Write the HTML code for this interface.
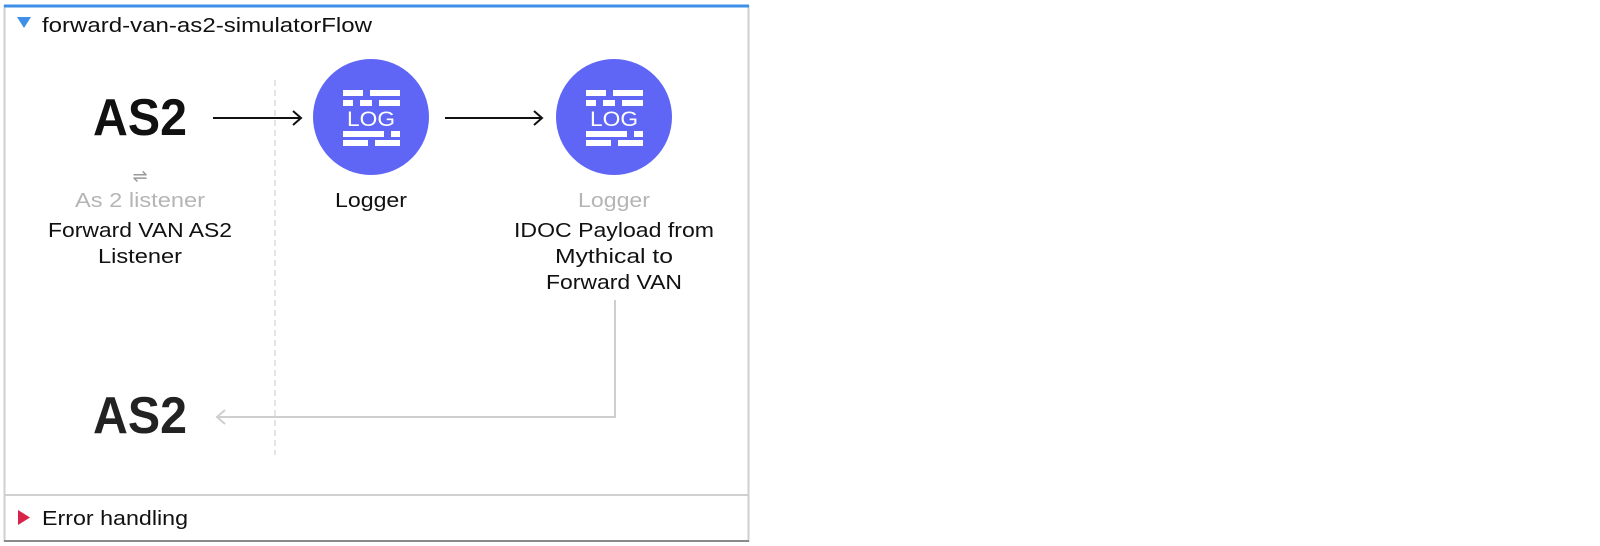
<!DOCTYPE html>
<html><head><meta charset="utf-8"><style>
html,body{margin:0;padding:0;background:#fff;width:1600px;height:546px;overflow:hidden}
svg{display:block}
text{font-family:"Liberation Sans","DejaVu Sans",sans-serif}
</style></head><body>
<svg width="1600" height="546" viewBox="0 0 1600 546" xmlns="http://www.w3.org/2000/svg">
<defs>
<g id="log">
  <rect x="-28" y="-27" width="20" height="6" fill="#fff"/>
  <rect x="-1" y="-27" width="30" height="6" fill="#fff"/>
  <rect x="-28" y="-17" width="10" height="6" fill="#fff"/>
  <rect x="-11" y="-17" width="12" height="6" fill="#fff"/>
  <rect x="8" y="-17" width="21" height="6" fill="#fff"/>
  <text x="0" y="9" text-anchor="middle" font-size="21" fill="#fff" textLength="48" lengthAdjust="spacingAndGlyphs">LOG</text>
  <rect x="-28" y="14" width="41" height="6" fill="#fff"/>
  <rect x="20" y="14" width="9" height="6" fill="#fff"/>
  <rect x="-28" y="23" width="25" height="6" fill="#fff"/>
  <rect x="4" y="23" width="25" height="6" fill="#fff"/>
</g>
</defs>
<rect x="4.5" y="6" width="744" height="535" fill="#fff" stroke="#cfcfcf" stroke-width="2"/>
<line x1="4" y1="6" x2="749" y2="6" stroke="#3d8fe8" stroke-width="3"/>
<line x1="4" y1="541" x2="749" y2="541" stroke="#8a8a8a" stroke-width="2"/>
<line x1="5" y1="495" x2="748" y2="495" stroke="#d0d0d0" stroke-width="2"/>
<polygon points="17,17 31,17 24,28" fill="#3d8fe8"/>
<g font-size="20" text-anchor="middle" fill="#111">
<text x="42" y="32" text-anchor="start" textLength="330" lengthAdjust="spacingAndGlyphs">forward-van-as2-simulatorFlow</text>
<text x="140" y="207" fill="#b5b5b5" textLength="130" lengthAdjust="spacingAndGlyphs">As 2 listener</text>
<text x="140" y="237" textLength="184" lengthAdjust="spacingAndGlyphs">Forward VAN AS2</text>
<text x="140" y="263" textLength="84" lengthAdjust="spacingAndGlyphs">Listener</text>
<text x="371" y="207" textLength="72" lengthAdjust="spacingAndGlyphs">Logger</text>
<text x="614" y="207" fill="#b5b5b5" textLength="72" lengthAdjust="spacingAndGlyphs">Logger</text>
<text x="614" y="237" textLength="200" lengthAdjust="spacingAndGlyphs">IDOC Payload from</text>
<text x="614" y="263" textLength="118" lengthAdjust="spacingAndGlyphs">Mythical to</text>
<text x="614" y="289" textLength="136" lengthAdjust="spacingAndGlyphs">Forward VAN</text>
<text x="42" y="525" text-anchor="start" textLength="146" lengthAdjust="spacingAndGlyphs">Error handling</text>
</g>
<line x1="275" y1="80" x2="275" y2="455" stroke="#c8c8c8" stroke-width="1" stroke-dasharray="6,4"/>
<text x="140" y="135" text-anchor="middle" font-size="52" font-weight="bold" fill="#111" textLength="94" lengthAdjust="spacingAndGlyphs">AS2</text>
<text x="140" y="182" text-anchor="middle" font-size="18" fill="#999">⇌</text>
<line x1="213" y1="118" x2="301" y2="118" stroke="#111" stroke-width="2"/>
<polyline points="293,111 301,118 293,125" fill="none" stroke="#111" stroke-width="2"/>
<line x1="445" y1="118" x2="542" y2="118" stroke="#111" stroke-width="2"/>
<polyline points="534,111 542,118 534,125" fill="none" stroke="#111" stroke-width="2"/>
<circle cx="371" cy="117" r="58" fill="#5f66f6"/>
<use href="#log" x="371" y="117"/>
<circle cx="614" cy="117" r="58" fill="#5f66f6"/>
<use href="#log" x="614" y="117"/>
<polyline points="615,300 615,417 218,417" fill="none" stroke="#cfcfcf" stroke-width="2"/>
<polyline points="225,410 217,417 225,424" fill="none" stroke="#cfcfcf" stroke-width="2"/>
<text x="140" y="433" text-anchor="middle" font-size="52" font-weight="bold" fill="#222" textLength="94" lengthAdjust="spacingAndGlyphs">AS2</text>
<polygon points="18,510 18,525 30,517.5" fill="#d8234a"/>
</svg>
</body></html>
